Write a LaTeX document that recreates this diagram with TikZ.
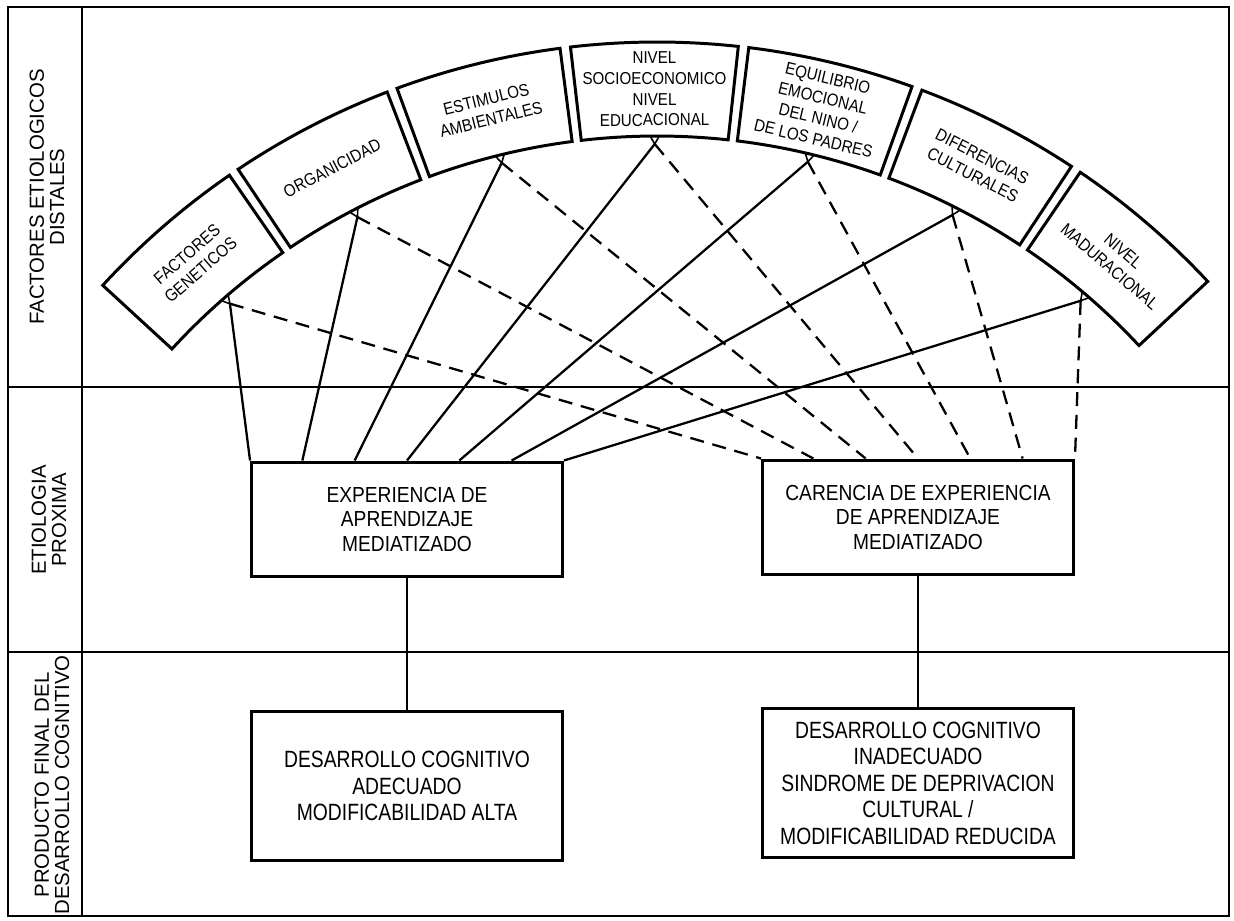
\documentclass[tikz,border=0pt]{standalone}
\usepackage{fontspec}
\setmainfont{Liberation Sans}
\newfontfamily\arcfont[FakeStretch=0.88]{Liberation Sans}
\newfontfamily\midfont[FakeStretch=0.88]{Liberation Sans}
\newfontfamily\botfont[FakeStretch=0.82]{Liberation Sans}
\usetikzlibrary{calc}
\begin{document}
\begin{tikzpicture}[x=0.02cm,y=0.02cm,
  frame/.style={line width=1.1pt},
  sector/.style={line width=1.7pt, line join=miter},
  solidln/.style={line width=1.3pt},
  dashln/.style={line width=1.3pt, dash pattern=on 8pt off 5pt},
  arctext/.style={font=\arcfont\fontsize{9.8}{11.8}\selectfont, align=center, inner sep=0pt},
  midbox/.style={draw, line width=1.7pt, minimum width=6.22cm, minimum height=2.3cm, align=center, inner sep=0pt, font=\midfont\fontsize{12.4}{14.2}\selectfont},
  botbox/.style={draw, line width=1.7pt, minimum width=6.24cm, minimum height=3cm, align=center, inner sep=0pt, font=\botfont\fontsize{13.4}{15.1}\selectfont},
  sidelabel/.style={rotate=90, align=center, inner sep=0pt, font=\fontsize{11.6}{11.6}\selectfont},
  marker/.style={line width=0.9pt, line join=miter}
]
\useasboundingbox (0,0) rectangle (1234,920);
% frame
\draw[frame] (8,4) rectangle (1229,913);
\draw[frame] (82,4) -- (82,913);
\draw[frame] (8,533) -- (1229,533);
\draw[frame] (8,268) -- (1229,268);
% side labels
\node[sidelabel] (lab1) at (47,723) {FACTORES ETIOLOGICOS\\DISTALES};
\node[sidelabel] (lab2) at (49,400) {ETIOLOGIA\\PROXIMA};
\node[sidelabel] (lab3) at (52,135) {PRODUCTO FINAL DEL\\DESARROLLO COGNITIVO};
% arc of distal factors
\begin{scope}[shift={(657,125)}]
\foreach \a/\i/\t in {131.0/1/{FACTORES\\GENETICOS},
                      117.4/2/{ORGANICIDAD},
                      103.8/3/{ESTIMULOS\\AMBIENTALES},
                      90.2/4/{NIVEL\\SOCIOECONOMICO\\NIVEL\\EDUCACIONAL},
                      76.6/5/{EQUILIBRIO\\EMOCIONAL\\DEL NINO /\\DE LOS PADRES},
                      63.0/6/{DIFERENCIAS\\CULTURALES},
                      49.4/7/{NIVEL\\MADURACIONAL}} {
  \draw[sector] (\a-6.4:659) arc[start angle=\a-6.4, end angle=\a+6.4, radius=659]
     -- (\a+6.4:753) arc[start angle=\a+6.4, end angle=\a-6.4, radius=753] -- cycle;
  \node[arctext, rotate=\a-90] (t\i) at (\a:706) {\t};
  \coordinate (p\i) at (\a:651);
  \draw[marker] (\a-0.4:659) -- (p\i) -- (\a+0.4:659);
}
\end{scope}
% proximal boxes
\node[midbox] (exp) at (407,400.5) {EXPERIENCIA DE\\APRENDIZAJE\\MEDIATIZADO};
\node[midbox] (car) at (918,402.5) {CARENCIA DE EXPERIENCIA\\DE APRENDIZAJE\\MEDIATIZADO};
% final boxes
\node[botbox] (botL) at (407,134) {DESARROLLO COGNITIVO\\ADECUADO\\MODIFICABILIDAD ALTA};
\node[botbox] (botR) at (918,137) {DESARROLLO COGNITIVO\\INADECUADO\\SINDROME DE DEPRIVACION\\CULTURAL /\\MODIFICABILIDAD REDUCIDA};
% connectors
\foreach \i in {1,...,7} {
  \draw[solidln] (p\i) -- ($(exp.north west)!{(\i-1)/6}!(exp.north east)$);
  \draw[dashln] (p\i) -- ($(car.north west)!{(\i-1)/6}!(car.north east)$);
}
\draw[solidln] (exp.south) -- (botL.north);
\draw[solidln] (car.south) -- (botR.north);
\end{tikzpicture}
\end{document}
